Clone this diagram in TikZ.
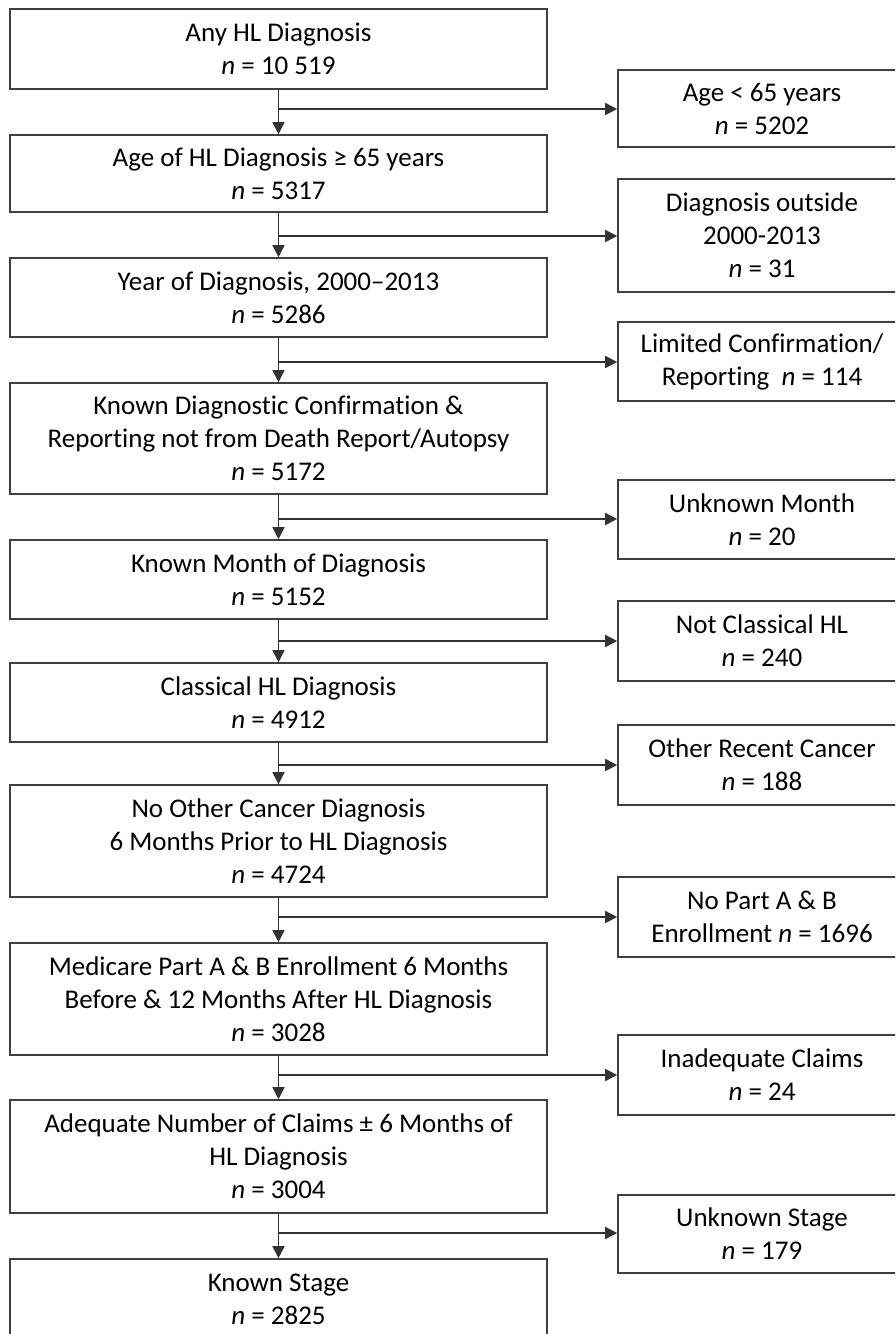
\documentclass[tikz,border=0pt]{standalone}
\usepackage{fontspec}
\setmainfont[Ligatures=NoCommon]{Carlito}
\usetikzlibrary{arrows.meta,calc}
\begin{document}
\begin{tikzpicture}[x=0.5pt,y=-0.5pt,
  every node/.style={font=\fontsize{13.5}{16.5}\selectfont, align=center, inner sep=0pt},
  mainbox/.style={draw=black!75, line width=0.8pt, minimum width=268.5pt, fill=white},
  exclbox/.style={draw=black!75, line width=0.8pt, minimum width=144pt, fill=white},
  arr/.style={draw=black!80, line width=0.8pt, -{Triangle[length=6pt,width=6pt]}},
  ln/.style={draw=black!80, line width=0.8pt}]
\useasboundingbox (0,0) rectangle (895,1334);
\clip (0,0) rectangle (895,1334);
\fill[white] (0,0) rectangle (895,1334);

% main boxes
\node[mainbox, minimum height=40pt]   (m1)  at (278.5,49)    {Any HL Diagnosis\\\textit{n} = 10 519};
\node[mainbox, minimum height=38.5pt] (m2)  at (278.5,173.5) {Age of HL Diagnosis ≥ 65 years\\\textit{n} = 5317};
\node[mainbox, minimum height=39.5pt] (m3)  at (278.5,297.5) {Year of Diagnosis, 2000–2013\\\textit{n} = 5286};
\node[mainbox, minimum height=55.5pt] (m4)  at (278.5,438.5) {Known Diagnostic Confirmation \&\\Reporting not from Death Report/Autopsy\\\textit{n} = 5172};
\node[mainbox, minimum height=39.5pt] (m5)  at (278.5,579.5) {Known Month of Diagnosis\\\textit{n} = 5152};
\node[mainbox, minimum height=39.5pt] (m6)  at (278.5,702.5) {Classical HL Diagnosis\\\textit{n} = 4912};
\node[mainbox, minimum height=56pt]   (m7)  at (278.5,841)   {No Other Cancer Diagnosis\\6 Months Prior to HL Diagnosis\\\textit{n} = 4724};
\node[mainbox, minimum height=56pt]   (m8)  at (278.5,999)   {Medicare Part A \& B Enrollment 6 Months\\Before \& 12 Months After HL Diagnosis\\\textit{n} = 3028};
\node[mainbox, minimum height=56.5pt] (m9)  at (278.5,1156.5){Adequate Number of Claims ± 6 Months of\\HL Diagnosis\\\textit{n} = 3004};
\node[mainbox, minimum height=40.5pt] (m10) at (278.5,1299.5){Known Stage\\\textit{n} = 2825};

% exclusion boxes
\node[exclbox, minimum height=38.5pt] (e1) at (762,108.5) {Age < 65 years\\\textit{n} = 5202};
\node[exclbox, minimum height=56.5pt] (e2) at (762,235.5) {Diagnosis outside\\2000-2013\\\textit{n} = 31};
\node[exclbox, minimum height=39.5pt] (e3) at (762,361.5) {Limited Confirmation/\\Reporting\ \ \textit{n} = 114};
\node[exclbox, minimum height=39.5pt] (e4) at (762,519.5) {Unknown Month\\\textit{n} = 20};
\node[exclbox, minimum height=40pt]   (e5) at (762,641)   {Not Classical HL\\\textit{n} = 240};
\node[exclbox, minimum height=40pt]   (e6) at (762,765)   {Other Recent Cancer\\\textit{n} = 188};
\node[exclbox, minimum height=40pt]   (e7) at (762,917)   {No Part A \& B\\Enrollment \textit{n} = 1696};
\node[exclbox, minimum height=40pt]   (e8) at (762,1075)  {Inadequate Claims\\\textit{n} = 24};
\node[exclbox, minimum height=39pt]   (e9) at (762,1234)  {Unknown Stage\\\textit{n} = 179};

% branch points
\coordinate (b1) at (278.5,109);
\coordinate (b2) at (278.5,236);
\coordinate (b3) at (278.5,362);
\coordinate (b4) at (278.5,519);
\coordinate (b5) at (278.5,641);
\coordinate (b6) at (278.5,765);
\coordinate (b7) at (278.5,917);
\coordinate (b8) at (278.5,1075);
\coordinate (b9) at (278.5,1233);

% vertical stems
\draw[arr] (m1.south) -- (m2.north);
\draw[arr] (m2.south) -- (m3.north);
\draw[arr] (m3.south) -- (m4.north);
\draw[arr] (m4.south) -- (m5.north);
\draw[arr] (m5.south) -- (m6.north);
\draw[arr] (m6.south) -- (m7.north);
\draw[arr] (m7.south) -- (m8.north);
\draw[arr] (m8.south) -- (m9.north);
\draw[arr] (m9.south) -- (m10.north);

% branches
\foreach \i in {1,...,9} {
  \draw[arr] (b\i) -- (b\i -| e\i.west);
}
\end{tikzpicture}
\end{document}
